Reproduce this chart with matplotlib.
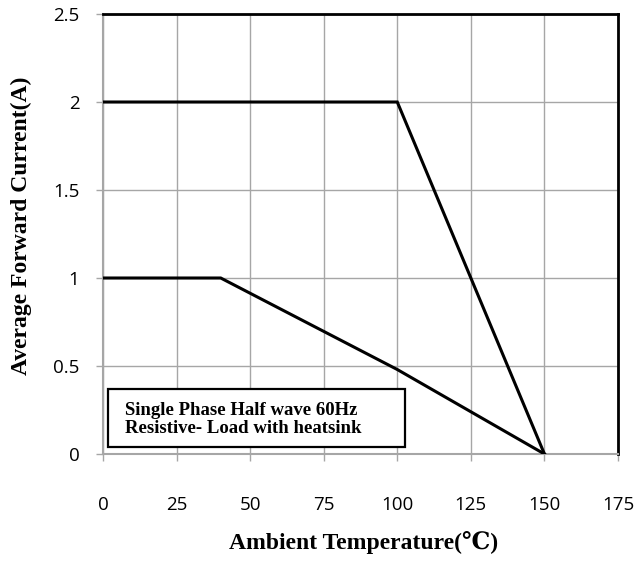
import matplotlib
matplotlib.use("Agg")
import matplotlib.pyplot as plt
from matplotlib.patches import Rectangle

# derating curves
heatsink_t = [0, 100, 150]
heatsink_i = [2.0, 2.0, 0.0]
free_air_t = [0, 40, 100, 150]
free_air_i = [1.0, 1.0, 0.48, 0.0]

x_ticks = [0, 25, 50, 75, 100, 125, 150, 175]
y_ticks = [0, 0.5, 1, 1.5, 2, 2.5]
y_tick_labels = ["0", "0.5", "1", "1.5", "2", "2.5"]

note = "Single Phase Half wave 60Hz\nResistive- Load with heatsink"

serif = ["Liberation Serif", "DejaVu Serif", "DejaVu Sans"]
grey = "#a6a6a6"

fig = plt.figure(figsize=(6.38, 5.63), dpi=100)
ax = fig.add_axes([103 / 638, 109 / 563, 515 / 638, 440 / 563])

ax.plot(heatsink_t, heatsink_i, color="black", lw=2.2, solid_joinstyle="miter", zorder=3)
ax.plot(free_air_t, free_air_i, color="black", lw=2.2, solid_joinstyle="miter", zorder=3)

ax.set_xlim(0, 175)
ax.set_ylim(0, 2.5)
ax.set_xticks(x_ticks)
ax.set_xticklabels([str(t) for t in x_ticks])
ax.set_yticks(y_ticks)
ax.set_yticklabels(y_tick_labels)
ax.grid(True, color=grey, lw=1.0)
ax.set_axisbelow(True)

for side in ("top", "right"):
    ax.spines[side].set_color("black")
    ax.spines[side].set_linewidth(2.0)
for side in ("left", "bottom"):
    ax.spines[side].set_color(grey)
    ax.spines[side].set_linewidth(1.5)

ax.tick_params(direction="out", length=5, width=1.0, color=grey, labelsize=13.5)
ax.tick_params(axis="x", pad=25)
ax.tick_params(axis="y", pad=12)
for lab in ax.get_xticklabels() + ax.get_yticklabels():
    lab.set_fontfamily("Open Sans")

# axis titles
fig.text(364 / 638, 20 / 563, "Ambient Temperature(℃)", family=serif,
         fontweight="bold", fontsize=17, ha="center", va="center")
fig.text(21 / 638, 1 - 226 / 563, "Average Forward Current(A)", family=serif,
         fontweight="bold", fontsize=17, rotation=90, ha="center", va="center")

# note box
ax.add_patch(Rectangle((0.0097, 0.0159), 0.5767, 0.1318, transform=ax.transAxes,
                       fc="white", ec="black", lw=1.6, zorder=4))
ax.text(22 / 515, 34.5 / 440, note, transform=ax.transAxes, family=serif,
        fontweight="bold", fontsize=13.5, ha="left", va="center",
        linespacing=1.12, zorder=5)

fig.savefig("out.png", dpi=100)
